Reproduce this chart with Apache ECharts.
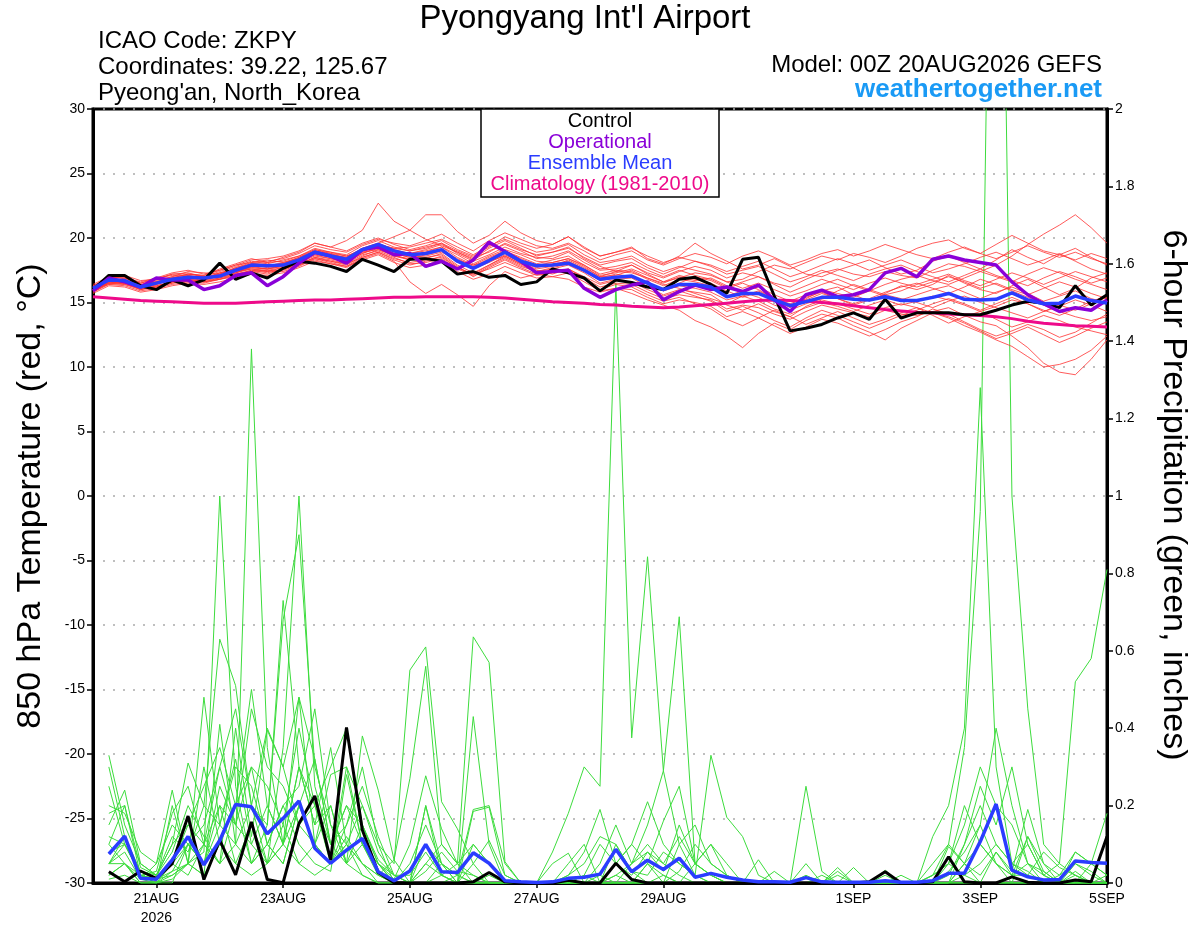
<!DOCTYPE html>
<html>
<head>
<meta charset="utf-8">
<title>Pyongyang Int'l Airport - GEFS</title>
<script src="https://cdn.jsdelivr.net/npm/echarts@6/dist/echarts.min.js"></script>
<style>
  html, body { margin: 0; padding: 0; background: #fff; }
  #chart { width: 1200px; height: 927px; }
</style>
</head>
<body>
<div id="chart"></div>
<script>
// 6-hourly steps from 00Z 20AUG2026 to 00Z 5SEP2026
const hours = []
for (let h = 0; h <= 384; h += 6) hours.push(String(h))

const tickIdx = [4, 12, 20, 28, 36, 48, 56, 64]
const tickText = ['21AUG\n2026', '23AUG', '25AUG', '27AUG', '29AUG', '1SEP', '3SEP', '5SEP']

// 850 hPa temperature (C)
const tempControl = [
  16.0, 17.1, 17.1, 16.3, 16.0, 16.75, 16.3, 16.75, 18.05, 16.8, 17.3, 16.9, 17.65,
  18.2, 18.05, 17.8, 17.4, 18.35, 17.9, 17.4, 18.35, 18.4, 18.2, 17.2, 17.4, 16.95,
  17.1, 16.4, 16.6, 17.6, 17.3, 16.9, 15.9, 16.75, 16.55, 16.2, 16.0, 16.8, 16.95,
  16.4, 15.7, 18.35, 18.5, 15.5, 12.8, 13.0, 13.3, 13.8, 14.2, 13.7, 15.25, 13.8,
  14.2, 14.2, 14.2, 14.05, 14.05, 14.4, 14.8, 15.1, 14.95, 14.6, 16.3, 14.8, 15.6
]
const tempOper = [
  15.9, 16.9, 16.6, 16.2, 16.9, 16.75, 16.75, 16.0, 16.3, 17.1, 17.3, 16.3, 17.0,
  18.05, 18.9, 18.6, 18.05, 19.1, 19.3, 18.7, 18.8, 17.8, 18.2, 17.6, 18.3, 19.67,
  18.95, 18.2, 17.3, 17.4, 17.5, 16.1, 15.4, 16.0, 16.35, 16.6, 15.2, 15.85, 16.35,
  16.0, 16.2, 15.85, 16.35, 15.2, 14.3, 15.6, 15.95, 15.45, 15.6, 16.0, 17.3, 17.65,
  17.0, 18.35, 18.6, 18.3, 18.1, 17.9, 16.6, 15.6, 14.9, 14.3, 14.6, 14.4, 15.2
]
const tempMean = [
  16.1, 16.75, 16.7, 16.2, 16.5, 16.8, 16.95, 16.9, 17.05, 17.5, 17.9, 17.85, 17.9,
  18.3, 18.9, 18.6, 18.35, 19.1, 19.5, 19.0, 18.7, 18.8, 19.1, 18.2, 17.65, 18.25,
  18.9, 18.2, 17.85, 17.9, 18.05, 17.5, 16.8, 16.95, 17.05, 16.5, 16.0, 16.4, 16.4,
  16.2, 15.45, 15.7, 15.7, 15.2, 14.75, 15.07, 15.4, 15.4, 15.25, 15.2, 15.45, 15.15,
  15.15, 15.4, 15.7, 15.25, 15.2, 15.25, 15.75, 15.2, 14.9, 14.95, 15.5, 15.15, 14.95
]
const tempClim = [
  15.45, 15.35, 15.25, 15.15, 15.1, 15.05, 15.0, 14.95, 14.95, 14.95, 15.0, 15.05, 15.1,
  15.15, 15.2, 15.2, 15.25, 15.3, 15.35, 15.4, 15.4, 15.45, 15.45, 15.45, 15.45, 15.4,
  15.35, 15.25, 15.15, 15.05, 15.0, 14.95, 14.85, 14.8, 14.7, 14.65, 14.6, 14.65, 14.75,
  14.85, 14.95, 15.05, 15.15, 15.2, 15.15, 15.1, 15.0, 14.9, 14.75, 14.6, 14.45, 14.35,
  14.25, 14.2, 14.1, 14.05, 14.0, 13.9, 13.75, 13.55, 13.4, 13.3, 13.2, 13.15, 13.1
]
const tempMembers = [
  [16.3, 16.9, 17.0, 16.5, 16.8, 17.2, 17.3, 17.0, 17.4, 17.8, 18.2, 18.0, 18.3,
   18.6, 19.2, 18.9, 18.7, 19.4, 19.8, 19.3, 19.0, 19.2, 19.6, 18.8, 18.2, 18.7,
   19.3, 18.8, 18.5, 18.4, 18.9, 18.1, 17.5, 17.6, 17.9, 17.3, 16.9, 17.4, 17.8,
   17.5, 16.9, 17.3, 17.0, 16.5, 16.2, 16.8, 17.3, 17.6, 17.2, 17.0, 17.4, 17.1,
   16.9, 17.5, 18.0, 17.8, 17.4, 17.9, 18.6, 19.5, 20.3, 21.0, 21.8, 20.8, 19.6],
  [15.8, 16.4, 16.3, 15.9, 16.1, 16.4, 16.6, 16.5, 16.8, 17.1, 17.5, 17.4, 17.5,
   17.9, 18.5, 18.2, 17.9, 18.6, 19.1, 18.7, 18.3, 18.5, 18.7, 17.8, 17.0, 17.7,
   18.3, 17.7, 17.2, 17.4, 17.6, 16.9, 16.2, 16.5, 16.4, 15.8, 15.3, 15.6, 15.4,
   15.2, 14.5, 14.8, 14.6, 14.1, 13.7, 14.3, 14.8, 14.5, 14.2, 13.9, 14.4, 14.1,
   14.0, 14.3, 14.6, 14.0, 13.5, 13.2, 12.4, 11.5, 10.3, 9.6, 9.4, 10.6, 12.1],
  [16.0, 16.6, 16.5, 16.0, 16.4, 16.9, 17.2, 17.1, 17.6, 18.0, 18.4, 18.1, 18.5,
   18.9, 19.6, 19.3, 19.8, 20.6, 22.7, 21.3, 20.6, 19.9, 19.4, 18.9, 18.4, 19.2,
   19.8, 19.2, 18.6, 18.9, 19.3, 18.4, 17.8, 17.4, 17.9, 17.2, 16.6, 17.1, 16.8,
   16.5, 15.9, 15.4, 15.8, 15.2, 14.6, 15.3, 15.9, 16.2, 15.6, 15.1, 15.7, 16.3,
   16.0, 16.4, 17.1, 16.5, 16.0, 15.7, 16.3, 16.8, 16.2, 15.6, 16.1, 16.9, 17.3],
  [16.2, 16.8, 16.6, 16.3, 16.7, 17.0, 17.4, 17.3, 17.2, 17.7, 18.1, 18.3, 18.1,
   18.5, 19.0, 18.7, 18.5, 19.2, 19.6, 20.1, 20.6, 21.8, 21.8, 20.5, 19.6, 20.2,
   21.3, 20.4, 19.8, 19.5, 20.1, 19.2, 18.6, 18.9, 19.3, 18.4, 18.0, 18.6, 19.6,
   18.8, 18.2, 17.6, 17.9, 18.4, 17.8, 17.2, 17.0, 17.5, 17.9, 18.3, 17.7, 17.2,
   17.5, 18.2, 18.6, 18.1, 17.6, 18.3, 19.1, 18.5, 18.0, 18.7, 19.2, 18.5, 17.9],
  [15.9, 16.5, 16.4, 16.1, 16.2, 16.5, 16.7, 16.6, 16.9, 17.2, 17.4, 17.2, 17.6,
   17.9, 18.3, 18.0, 17.7, 18.4, 18.8, 18.2, 16.6, 15.7, 16.4, 15.6, 14.7, 16.3,
   17.4, 16.9, 17.2, 17.0, 16.8, 16.2, 15.8, 16.1, 15.7, 15.2, 14.8, 14.4, 13.6,
   13.1, 12.4, 11.5, 12.6, 13.4, 12.9, 13.6, 14.1, 13.8, 13.2, 12.7, 12.1, 13.0,
   13.6, 14.2, 13.9, 13.4, 12.8, 12.2, 12.6, 13.1, 12.5, 11.9, 12.4, 13.0, 13.5],
  [16.1, 16.7, 16.8, 16.4, 16.6, 16.9, 17.0, 16.8, 17.2, 17.6, 17.9, 17.7, 17.9,
   18.3, 18.8, 18.5, 18.2, 18.9, 19.4, 18.9, 18.6, 18.9, 19.3, 18.5, 17.9, 18.5,
   19.0, 18.5, 18.0, 18.3, 18.6, 17.9, 17.2, 17.5, 17.4, 16.8, 16.3, 16.8, 16.6,
   16.3, 15.5, 15.9, 16.2, 15.6, 15.1, 15.6, 16.0, 15.7, 15.4, 15.9, 15.5, 15.2,
   15.6, 16.0, 16.3, 15.8, 15.3, 15.8, 16.2, 15.7, 15.1, 15.5, 15.9, 15.3, 15.0],
  [15.9, 16.6, 16.8, 16.2, 16.5, 16.7, 16.9, 17.0, 17.1, 17.4, 17.8, 17.9, 18.0,
   18.4, 19.0, 18.8, 18.4, 19.0, 19.3, 19.0, 18.8, 19.0, 19.3, 18.7, 18.0, 18.6,
   19.1, 18.7, 18.2, 18.1, 18.4, 17.9, 17.1, 17.3, 17.6, 17.1, 16.6, 16.9, 17.3,
   17.1, 16.6, 16.8, 17.4, 17.9, 17.6, 18.1, 18.6, 18.3, 18.8, 18.5, 18.1, 18.6,
   19.2, 19.6, 19.85, 19.2, 18.8, 19.5, 20.2, 19.6, 19.0, 18.7, 18.3, 18.8, 18.4],
  [16.0, 16.5, 16.6, 16.0, 16.3, 16.6, 16.8, 16.7, 16.9, 17.3, 17.6, 17.5, 17.7,
   18.1, 18.6, 18.4, 18.1, 18.8, 19.2, 18.6, 18.3, 18.4, 18.8, 17.9, 17.3, 17.9,
   18.5, 17.9, 17.4, 17.6, 17.9, 17.3, 16.5, 16.8, 16.9, 16.2, 15.6, 16.0, 15.8,
   15.6, 14.8, 14.4, 14.9, 14.3, 13.9, 14.7, 15.2, 14.9, 14.5, 14.1, 14.6, 14.9,
   14.6, 14.2, 13.8, 13.2, 12.7, 12.1, 11.6, 10.8, 10.0, 10.2, 10.6, 11.3, 12.4],
  [16.2, 16.9, 16.9, 16.5, 16.9, 17.1, 17.1, 16.9, 17.3, 17.6, 18.0, 18.1, 18.2,
   18.6, 19.1, 18.9, 18.6, 19.1, 19.5, 19.2, 19.3, 19.6, 19.9, 19.3, 18.7, 19.4,
   19.9, 19.4, 18.9, 19.1, 19.5, 18.7, 18.1, 18.3, 18.6, 17.9, 17.4, 17.8, 17.5,
   17.2, 16.6, 16.1, 16.5, 16.0, 15.5, 15.9, 16.4, 16.8, 16.3, 15.9, 16.4, 16.8,
   17.1, 16.7, 16.4, 16.9, 17.4, 17.0, 16.6, 17.2, 17.7, 17.3, 16.8, 16.4, 16.0],
  [15.7, 16.3, 16.2, 15.8, 16.0, 16.3, 16.5, 16.4, 16.6, 16.9, 17.2, 17.1, 17.3,
   17.7, 18.2, 18.0, 17.8, 18.3, 18.7, 18.1, 17.7, 17.9, 18.3, 17.4, 16.8, 17.2,
   17.8, 17.3, 16.9, 17.0, 17.3, 16.6, 15.9, 16.1, 16.0, 15.4, 14.9, 15.2, 15.0,
   14.7, 13.9, 14.3, 13.8, 13.2, 12.6, 13.1, 13.7, 13.4, 12.9, 12.4, 12.9, 13.5,
   13.9, 14.5, 14.1, 13.5, 12.9, 12.4, 12.8, 13.3, 12.9, 12.3, 12.7, 13.4, 14.1],
  [16.4, 17.0, 16.9, 16.6, 16.9, 17.3, 17.5, 17.2, 17.5, 17.9, 18.3, 18.4, 18.6,
   19.0, 19.6, 19.3, 19.0, 19.6, 20.0, 19.5, 19.1, 19.4, 19.8, 19.1, 18.6, 19.3,
   20.1, 19.6, 19.2, 19.5, 20.1, 19.3, 18.6, 18.9, 19.2, 18.6, 18.1, 18.5, 18.2,
   17.9, 17.4, 17.8, 18.2, 17.6, 17.0, 17.4, 17.9, 18.4, 18.0, 17.5, 17.9, 18.3,
   17.8, 17.3, 17.6, 18.0, 18.5, 18.9, 18.4, 17.9, 18.3, 18.8, 18.2, 17.6, 17.2],
  [15.8, 16.6, 16.5, 16.2, 16.3, 16.6, 16.7, 16.6, 16.8, 17.2, 17.5, 17.3, 17.6,
   18.0, 18.5, 18.3, 18.0, 18.7, 19.0, 18.5, 18.0, 18.1, 18.4, 17.6, 17.1, 17.8,
   18.4, 17.8, 17.4, 17.7, 18.0, 17.4, 16.7, 16.9, 17.1, 16.5, 15.9, 16.3, 16.1,
   15.8, 15.2, 15.5, 15.1, 14.5, 14.1, 14.6, 15.0, 14.7, 14.3, 14.8, 15.2, 14.8,
   15.1, 15.5, 15.2, 14.8, 14.3, 14.7, 15.2, 14.9, 14.4, 14.0, 14.5, 15.1, 15.5],
  [16.1, 16.5, 16.7, 16.3, 16.4, 16.8, 17.1, 16.9, 17.0, 17.5, 17.7, 17.6, 17.8,
   18.2, 18.7, 18.6, 18.3, 18.9, 19.1, 18.6, 18.4, 18.7, 19.0, 18.2, 17.6, 18.1,
   18.7, 18.1, 17.7, 18.0, 18.2, 17.6, 16.9, 17.2, 17.0, 16.4, 15.9, 16.5, 17.0,
   16.7, 16.1, 16.5, 16.0, 15.3, 14.9, 15.4, 15.8, 15.3, 14.9, 15.3, 15.8, 16.2,
   16.5, 16.1, 15.7, 16.2, 16.8, 16.4, 15.9, 15.4, 14.8, 14.3, 13.9, 13.6, 13.9],
  [15.9, 16.7, 16.6, 16.1, 16.5, 16.8, 16.6, 16.8, 17.1, 17.3, 17.7, 17.6, 17.8,
   18.1, 18.9, 18.7, 18.3, 19.0, 19.4, 18.8, 18.5, 18.6, 18.9, 18.3, 17.9, 18.2,
   18.6, 18.0, 17.6, 17.8, 18.3, 17.7, 17.0, 17.4, 17.3, 16.9, 16.5, 17.0, 16.7,
   16.9, 16.3, 15.8, 15.4, 14.8, 14.4, 14.9, 15.3, 15.9, 16.4, 16.0, 15.6, 15.9,
   16.4, 16.8, 17.2, 16.7, 16.3, 16.8, 17.3, 16.9, 16.4, 16.9, 17.4, 17.0, 16.6],
  [16.0, 16.4, 16.5, 16.1, 16.2, 16.6, 16.9, 16.7, 17.1, 17.4, 17.6, 17.4, 17.7,
   18.0, 18.4, 18.2, 18.0, 18.5, 18.9, 18.4, 18.1, 18.3, 18.5, 17.7, 17.2, 17.6,
   18.1, 17.6, 17.1, 17.3, 17.5, 16.8, 16.0, 16.4, 16.2, 15.6, 15.1, 15.4, 14.9,
   14.5, 13.7, 13.2, 13.8, 14.4, 13.9, 13.3, 13.8, 14.3, 13.8, 13.3, 13.7, 14.2,
   14.6, 14.0, 13.4, 13.9, 14.3, 13.7, 13.1, 13.5, 14.0, 13.6, 13.1, 12.8, 12.5],
  [16.3, 16.8, 17.1, 16.7, 16.8, 17.2, 17.2, 17.1, 17.5, 17.9, 18.1, 18.2, 18.4,
   18.8, 19.4, 19.1, 18.9, 19.5, 19.9, 19.6, 19.4, 19.8, 20.3, 19.6, 19.0, 19.8,
   20.4, 19.9, 19.4, 19.2, 19.6, 19.0, 18.3, 18.7, 19.0, 18.3, 17.9, 18.4, 18.8,
   18.5, 18.0, 18.6, 19.0, 18.5, 17.9, 18.3, 18.8, 19.1, 18.6, 19.0, 19.5, 19.1,
   18.7, 18.4, 18.9, 19.3, 18.8, 18.4, 18.9, 19.4, 18.9, 18.5, 18.9, 18.4, 18.0],
  [15.8, 16.5, 16.4, 16.0, 16.2, 16.5, 16.8, 16.6, 16.8, 17.0, 17.4, 17.5, 17.4,
   17.8, 18.4, 18.1, 17.8, 18.5, 18.9, 18.3, 17.9, 18.2, 18.6, 17.7, 17.2, 17.9,
   18.6, 18.0, 17.5, 17.2, 17.6, 17.0, 16.4, 16.7, 16.6, 16.0, 15.5, 15.9, 15.5,
   15.1, 14.3, 14.7, 14.2, 13.6, 13.1, 13.8, 14.4, 14.0, 13.5, 13.0, 13.5, 14.0,
   14.4, 14.9, 15.3, 14.9, 14.4, 14.9, 15.4, 14.9, 14.3, 14.7, 15.2, 14.8, 14.3],
  [16.2, 16.6, 16.9, 16.4, 16.6, 17.0, 16.9, 16.8, 17.3, 17.6, 18.0, 17.8, 18.1,
   18.4, 18.9, 18.7, 18.5, 19.2, 19.6, 19.1, 18.8, 19.1, 19.5, 18.9, 18.3, 19.0,
   19.5, 19.0, 18.4, 18.6, 19.0, 18.3, 17.6, 17.8, 18.1, 17.5, 17.0, 17.5, 17.1,
   16.8, 16.2, 16.6, 17.0, 16.4, 15.8, 16.3, 16.8, 16.4, 16.0, 16.5, 16.9, 16.5,
   16.2, 16.6, 17.0, 16.6, 16.1, 16.5, 16.0, 15.6, 16.1, 16.6, 16.2, 15.7, 15.3],
  [16.0, 16.8, 16.5, 16.2, 16.6, 16.7, 17.0, 16.8, 17.0, 17.3, 17.8, 17.6, 17.9,
   18.2, 18.7, 18.4, 18.2, 18.8, 19.3, 18.8, 18.5, 18.8, 19.1, 18.4, 17.8, 18.4,
   19.0, 18.4, 17.9, 18.1, 18.4, 17.8, 17.0, 17.1, 17.5, 16.9, 16.4, 16.1, 15.7,
   15.3, 14.9, 15.5, 15.9, 15.3, 14.8, 15.2, 15.7, 15.3, 14.8, 15.2, 15.6, 15.3,
   15.0, 14.6, 15.1, 15.5, 15.0, 14.6, 14.2, 13.8, 14.3, 14.8, 14.4, 14.9, 15.4],
  [16.1, 16.6, 16.6, 16.3, 16.5, 16.9, 17.2, 17.0, 17.2, 17.7, 18.0, 17.9, 18.0,
   18.5, 19.1, 18.8, 18.6, 19.1, 19.5, 19.2, 19.0, 19.3, 19.6, 19.0, 18.5, 18.9,
   19.6, 19.1, 18.7, 18.9, 19.2, 18.5, 17.9, 18.2, 18.4, 17.7, 17.2, 17.7, 18.2,
   17.8, 17.2, 17.5, 17.8, 17.2, 16.6, 17.0, 17.5, 17.1, 16.7, 17.2, 17.6, 17.9,
   17.4, 17.0, 16.6, 17.1, 17.6, 17.1, 16.7, 16.3, 16.9, 17.4, 17.0, 16.5, 16.9]
]

// 6-hour precipitation (inches), first value is the analysis time (no accumulation)
const precipControl = [
  null, 0.029, 0.003, 0.031, 0.012, 0.05, 0.173, 0.009, 0.111,
  0.021, 0.158, 0.009, 0.001, 0.154, 0.225, 0.059, 0.402,
  0.137, 0.027, 0.001, 0, 0, 0, 0, 0.003,
  0.027, 0.003, 0, 0, 0, 0.007, 0, 0,
  0.051, 0.009, 0, 0, 0, 0, 0, 0,
  0, 0, 0, 0, 0, 0, 0, 0,
  0.003, 0.029, 0, 0, 0.003, 0.068, 0.003, 0,
  0, 0.016, 0.002, 0, 0, 0.008, 0.003, 0.12
]
const precipMean = [
  null, 0.075, 0.121, 0.012, 0.01, 0.06, 0.12, 0.047, 0.11,
  0.203, 0.197, 0.127, 0.167, 0.212, 0.09, 0.051, 0.085,
  0.115, 0.029, 0.006, 0.031, 0.1, 0.029, 0.027, 0.078,
  0.051, 0.006, 0.003, 0.001, 0.003, 0.012, 0.015, 0.023,
  0.087, 0.029, 0.059, 0.035, 0.064, 0.015, 0.025, 0.015,
  0.008, 0.003, 0.003, 0.002, 0.014, 0.003, 0.002, 0.002,
  0.002, 0.006, 0.002, 0.002, 0.006, 0.025, 0.025, 0.107,
  0.204, 0.033, 0.016, 0.008, 0.009, 0.057, 0.053, 0.051
]
const precipMembers = [
  [null, 0.02, 0.05, 0, 0, 0.03, 0.1, 0.05, 0.2,
   0.15, 0.3, 0.1, 0.05, 0.2, 0.1, 0.05, 0.12,
   0.05, 0, 0, 0, 0.05, 0.02, 0, 0,
   0, 0, 0, 0, 0.08, 0.18, 0.3, 0.25,
   1.55, 0.375, 0.843, 0.29, 0.688, 0.05, 0.02, 0,
   0, 0, 0, 0, 0, 0, 0, 0,
   0, 0, 0, 0, 0.02, 0.1, 0.05, 0,
   0, 0, 0, 0, 0, 0.03, 0, 0],
  [null, 0.1, 0.2, 0.02, 0.01, 0.05, 0.15, 0.1, 0.05,
   0.1, 1.38, 0.35, 0.1, 0.3, 0.2, 0.05, 0.15,
   0.3, 0.1, 0, 0, 0, 0, 0.02, 0.19,
   0.2, 0.05, 0, 0, 0, 0, 0, 0,
   0, 0, 0.05, 0, 0.1, 0.02, 0.33, 0.17,
   0.12, 0.02, 0, 0, 0.25, 0.03, 0, 0,
   0, 0, 0, 0, 0, 0, 0.05, 0.1,
   0.05, 0, 0.12, 0.03, 0, 0.05, 0.02, 0],
  [null, 0.05, 0.1, 0.03, 0.01, 0.02, 0.05, 0.08, 1.0,
   0.25, 0.05, 0.1, 0.2, 0.1, 0.05, 0.03, 0.28,
   0.1, 0.05, 0, 0, 0, 0, 0, 0,
   0, 0, 0, 0, 0, 0, 0.02, 0,
   0.1, 0.03, 0, 0, 0, 0, 0, 0,
   0, 0, 0, 0, 0, 0, 0, 0.04,
   0, 0.03, 0, 0, 0, 0, 0, 0,
   0, 0, 0, 0, 0, 0, 0, 0],
  [null, 0.3, 0.12, 0.02, 0, 0.05, 0.02, 0.1, 0.2,
   0.05, 0.15, 0.05, 0.35, 1.0, 0.25, 0.1, 0.2,
   0.15, 0.05, 0.02, 0, 0.2, 0.05, 0.02, 0,
   0, 0, 0, 0, 0, 0, 0, 0,
   0.02, 0, 0.05, 0.02, 0, 0, 0, 0,
   0, 0, 0, 0, 0, 0.02, 0, 0,
   0, 0, 0, 0, 0.02, 0.05, 0.02, 0,
   0.08, 0.03, 0.19, 0.05, 0.02, 0.08, 0.05, 0.02],
  [null, 0.02, 0.05, 0.01, 0.05, 0.24, 0.05, 0.02, 0.41,
   0.1, 0.05, 0.15, 0.68, 0.9, 0.3, 0.15, 0.05,
   0.1, 0.02, 0, 0, 0, 0, 0, 0.05,
   0.11, 0.02, 0, 0, 0, 0, 0, 0,
   0.05, 0.1, 0.21, 0.1, 0.05, 0.02, 0, 0,
   0, 0.06, 0, 0, 0.02, 0, 0, 0,
   0, 0, 0, 0, 0, 0.02, 0.1, 0.2,
   0.1, 0.05, 0.02, 0, 0, 0, 0, 0],
  [null, 0.15, 0.24, 0.05, 0.02, 0.1, 0.31, 0.2, 0.63,
   0.51, 0.2, 0.4, 0.3, 0.48, 0.32, 0.1, 0.05,
   0.38, 0.24, 0.06, 0, 0.05, 0.1, 0.05, 0,
   0, 0, 0, 0, 0, 0, 0, 0.02,
   0, 0, 0, 0, 0, 0, 0, 0,
   0, 0, 0.03, 0, 0, 0, 0.04, 0,
   0, 0, 0, 0, 0, 0, 0, 0,
   0, 0, 0, 0, 0, 0, 0, 0],
  [null, 0.08, 0.1, 0.02, 0.01, 0.03, 0.05, 0.48, 0.15,
   0.32, 0.1, 0.05, 0.1, 0.48, 0.1, 0.28, 0.3,
   0.2, 0.1, 0.05, 0.55, 0.61, 0.21, 0.14, 0.05,
   0, 0, 0, 0, 0, 0, 0, 0,
   0, 0, 0, 0, 0, 0, 0, 0,
   0, 0, 0, 0, 0, 0, 0, 0,
   0, 0, 0, 0, 0, 0, 0, 0,
   0, 0, 0, 0, 0, 0, 0, 0.02],
  [null, 0.05, 0.05, 0, 0, 0.02, 0.05, 0.1, 0.05,
   0.2, 0.05, 0.1, 0.05, 0.2, 0.1, 0.05, 0.1,
   0.05, 0.02, 0.06, 0.27, 0.56, 0.1, 0.05, 0.636,
   0.57, 0.055, 0, 0, 0, 0, 0, 0,
   0, 0, 0, 0, 0, 0, 0, 0,
   0, 0, 0, 0, 0, 0, 0, 0,
   0, 0, 0.02, 0, 0, 0, 0, 0,
   0, 0, 0, 0, 0, 0, 0, 0],
  [null, 0.01, 0.02, 0, 0, 0.01, 0.05, 0.02, 0.1,
   0.05, 0.02, 0.05, 0.1, 0.05, 0.02, 0.05, 0.1,
   0.02, 0, 0, 0, 0, 0, 0, 0.43,
   0.1, 0, 0, 0, 0, 0, 0, 0,
   0, 0, 0, 0, 0, 0, 0, 0,
   0, 0, 0, 0, 0, 0, 0, 0,
   0, 0, 0, 0, 0.05, 0.1, 0.35, 0.96,
   3.75, 1.0, 0.45, 0.1, 0.05, 0.02, 0, 0],
  [null, 0.05, 0.08, 0.01, 0, 0, 0.1, 0.05, 0.15,
   0.1, 0.2, 0.05, 0.15, 0.05, 0.1, 0.2, 0.05,
   0.02, 0, 0, 0, 0, 0.05, 0, 0,
   0, 0, 0, 0, 0, 0.02, 0.08, 0.19,
   0.05, 0.1, 0.05, 0.16, 0.25, 0.05, 0.1, 0.05,
   0, 0, 0, 0, 0.05, 0, 0.03, 0,
   0, 0.02, 0, 0, 0.12, 0.2, 0.4, 1.28,
   0.3, 0.05, 0.1, 0.02, 0.05, 0.52, 0.58, 0.81],
  [null, 0.33, 0.15, 0.05, 0.02, 0.08, 0.2, 0.12, 0.05,
   0.4, 0.12, 0.395, 0.3, 0.15, 0.1, 0.05, 0.3,
   0.1, 0.05, 0, 0, 0.2, 0.02, 0, 0.185,
   0.196, 0.02, 0, 0, 0, 0.05, 0.1, 0,
   0, 0.05, 0.15, 0.29, 0.1, 0.15, 0.05, 0.02,
   0, 0, 0, 0, 0, 0, 0, 0,
   0, 0, 0, 0, 0, 0, 0.05, 0.15,
   0.05, 0.02, 0.05, 0, 0, 0, 0.05, 0.18],
  [null, 0.2, 0.18, 0.08, 0.05, 0.15, 0.1, 0.05, 0.25,
   0.15, 0.1, 0.2, 0.1, 0.3, 0.15, 0.2, 0.05,
   0.15, 0.05, 0.01, 0.1, 0.277, 0.14, 0.05, 0.02,
   0, 0, 0, 0, 0.05, 0.077, 0, 0,
   0.02, 0.05, 0.08, 0.05, 0.12, 0.05, 0.02, 0,
   0, 0, 0, 0, 0, 0, 0, 0,
   0, 0.033, 0, 0, 0, 0.094, 0.05, 0.02,
   0.08, 0.02, 0.12, 0.05, 0, 0.08, 0.05, 0.02],
  [null, 0.12, 0.1, 0.02, 0, 0.2, 0.05, 0.3, 0.1,
   0.2, 0.5, 0.2, 0.1, 0.2, 0.32, 0.1, 0.15,
   0.25, 0.12, 0.02, 0, 0.1, 0.05, 0.02, 0,
   0.02, 0, 0, 0, 0, 0, 0, 0.05,
   0.15, 0.05, 0.1, 0.05, 0.02, 0, 0, 0,
   0, 0, 0, 0, 0, 0, 0, 0,
   0, 0, 0, 0, 0, 0.05, 0.15, 0.3,
   0.2, 0.15, 0.05, 0.02, 0, 0, 0, 0],
  [null, 0.1, 0.05, 0.02, 0.01, 0.05, 0.1, 0.15, 0.3,
   0.45, 0.2, 0.15, 0.73, 0.3, 0.15, 0.35, 0.1,
   0.05, 0.02, 0, 0, 0, 0.02, 0.05, 0.1,
   0.05, 0, 0, 0, 0, 0, 0, 0,
   0, 0, 0, 0.02, 0, 0.05, 0.02, 0,
   0, 0, 0, 0, 0, 0, 0, 0,
   0, 0, 0, 0, 0, 0, 0.02, 0.05,
   0.1, 0.05, 0.03, 0, 0.02, 0.05, 0.03, 0],
  [null, 0.05, 0.12, 0.03, 0.02, 0.1, 0.15, 0.25, 0.35,
   0.2, 0.3, 0.25, 0.15, 0.4, 0.2, 0.1, 0.2,
   0.1, 0.03, 0, 0.05, 0.15, 0.05, 0, 0.1,
   0.05, 0, 0, 0, 0, 0, 0.02, 0.1,
   0.05, 0.02, 0.08, 0.03, 0.15, 0.05, 0.1, 0.02,
   0, 0, 0, 0, 0, 0, 0, 0,
   0, 0, 0, 0, 0, 0, 0.1, 0.25,
   0.15, 0.3, 0.1, 0.02, 0, 0.02, 0, 0],
  [null, 0.18, 0.2, 0.04, 0.02, 0.12, 0.08, 0.2, 0.15,
   0.3, 0.25, 0.1, 0.2, 0.25, 0.45, 0.15, 0.1,
   0.2, 0.08, 0.02, 0.02, 0.08, 0.02, 0, 0,
   0, 0, 0, 0, 0, 0.02, 0.05, 0.12,
   0.1, 0.03, 0.02, 0.08, 0.05, 0.02, 0, 0,
   0, 0, 0, 0, 0, 0, 0.02, 0,
   0, 0, 0, 0, 0.02, 0.05, 0.2, 0.1,
   0.05, 0.02, 0.02, 0.08, 0.04, 0.02, 0, 0],
  [null, 0.25, 0.1, 0.02, 0.03, 0.18, 0.25, 0.1, 0.3,
   0.15, 0.45, 0.3, 0.25, 0.15, 0.2, 0.3, 0.4,
   0.15, 0.06, 0.02, 0, 0.03, 0.08, 0.03, 0.02,
   0, 0, 0, 0, 0, 0, 0, 0,
   0, 0, 0, 0, 0.03, 0.1, 0.05, 0.02,
   0, 0, 0, 0, 0, 0, 0, 0,
   0, 0, 0, 0, 0, 0.03, 0.08, 0.15,
   0.4, 0.2, 0.05, 0.03, 0, 0, 0, 0]
]

const fontFamily = '"Liberation Sans", Arial, sans-serif'
const colorControl = '#000000'
const colorOper = '#8a00d8'
const colorMean = '#2a3cff'
const colorClim = '#ee0a8a'
const colorMember = 'rgba(255, 50, 50, 0.8)'
const colorPrecip = '#3ddc3d'

const showTick = i => tickIdx.includes(i)

function line(data, color, width, axis, z) {
  return {
    type: 'line',
    data,
    yAxisIndex: axis,
    symbol: 'none',
    silent: true,
    animation: false,
    connectNulls: false,
    lineStyle: { color, width },
    z
  }
}

const series = []
precipMembers.forEach(d => series.push(line(d, colorPrecip, 1, 1, 2)))
tempMembers.forEach(d => series.push(line(d, colorMember, 1, 0, 3)))
series.push(line(precipControl, colorControl, 3, 1, 4))
series.push(line(precipMean, colorMean, 3.5, 1, 5))
series.push(line(tempClim, colorClim, 3, 0, 6))
series.push(line(tempControl, colorControl, 3, 0, 7))
series.push(line(tempOper, colorOper, 3.5, 0, 8))
series.push(line(tempMean, colorMean, 3.5, 0, 9))

function txt(text, x, y, size, opts = {}) {
  return {
    type: 'text',
    x,
    y,
    rotation: opts.rotation || 0,
    z: 100,
    silent: true,
    style: {
      text,
      fill: opts.color || '#000',
      fontSize: size,
      fontFamily,
      fontWeight: opts.weight || 'normal',
      textAlign: opts.align || 'left',
      textVerticalAlign: 'middle',
      align: opts.align || 'left',
      verticalAlign: 'middle'
    }
  }
}

const legendItems = [
  ['Control', colorControl],
  ['Operational', colorOper],
  ['Ensemble Mean', colorMean],
  ['Climatology (1981-2010)', colorClim]
]

const graphic = [
  txt("Pyongyang Int'l Airport", 585, 19, 33, { align: 'center' }),
  txt('ICAO Code: ZKPY', 98, 41, 24),
  txt('Coordinates: 39.22, 125.67', 98, 67, 24),
  txt("Pyeong'an, North_Korea", 98, 93, 24),
  txt('Model: 00Z 20AUG2026 GEFS', 1102, 65, 24, { align: 'right' }),
  txt('weathertogether.net', 1102, 90, 26, { align: 'right', weight: 'bold', color: '#1a9af5' }),
  txt('850 hPa Temperature (red, \u00B0C)', 31, 496, 34, { align: 'center', rotation: Math.PI / 2 }),
  txt('6-hour Precipitation (green, inches)', 1173, 495, 34, { align: 'center', rotation: -Math.PI / 2 }),
  {
    type: 'rect',
    z: 99,
    silent: true,
    shape: { x: 481, y: 109, width: 238, height: 88 },
    style: { fill: '#fff', stroke: '#000', lineWidth: 1.5 }
  },
  ...legendItems.map(([t, c], k) => txt(t, 600, 121 + k * 21.3, 20, { align: 'center', color: c }))
]

const chart = echarts.init(document.getElementById('chart'), null, { renderer: 'canvas' })

chart.setOption({
  backgroundColor: '#fff',
  animation: false,
  textStyle: { fontFamily },
  grid: {
    left: 93,
    right: 93,
    top: 109,
    bottom: 44,
    show: true,
    borderColor: '#000',
    borderWidth: 3,
    backgroundColor: 'transparent',
    outerBoundsMode: 'none'
  },
  xAxis: {
    type: 'category',
    data: hours,
    boundaryGap: false,
    axisLine: { show: true, onZero: false, lineStyle: { color: '#000', width: 3 } },
    axisTick: { show: true, interval: showTick, length: 5, lineStyle: { color: '#000', width: 1.5 } },
    axisLabel: {
      interval: showTick,
      formatter: (v, i) => tickText[tickIdx.indexOf(i)] || '',
      color: '#000',
      fontSize: 14,
      fontFamily,
      lineHeight: 19,
      margin: 7
    },
    splitLine: { show: false }
  },
  yAxis: [
    {
      type: 'value',
      position: 'left',
      min: -30,
      max: 30,
      interval: 5,
      axisLine: { show: true, lineStyle: { color: '#000', width: 3 } },
      axisTick: { show: true, length: 6, lineStyle: { color: '#000', width: 1.5 } },
      axisLabel: { color: '#000', fontSize: 14, fontFamily, margin: 8 },
      splitLine: { show: true, lineStyle: { color: '#aaa', width: 1.5, type: [2, 8] } }
    },
    {
      type: 'value',
      position: 'right',
      min: 0,
      max: 2,
      interval: 0.2,
      axisLine: { show: true, lineStyle: { color: '#000', width: 3 } },
      axisTick: { show: true, length: 6, lineStyle: { color: '#000', width: 1.5 } },
      axisLabel: { color: '#000', fontSize: 14, fontFamily, margin: 8 },
      splitLine: { show: false }
    }
  ],
  graphic,
  series
})
</script>
</body>
</html>
